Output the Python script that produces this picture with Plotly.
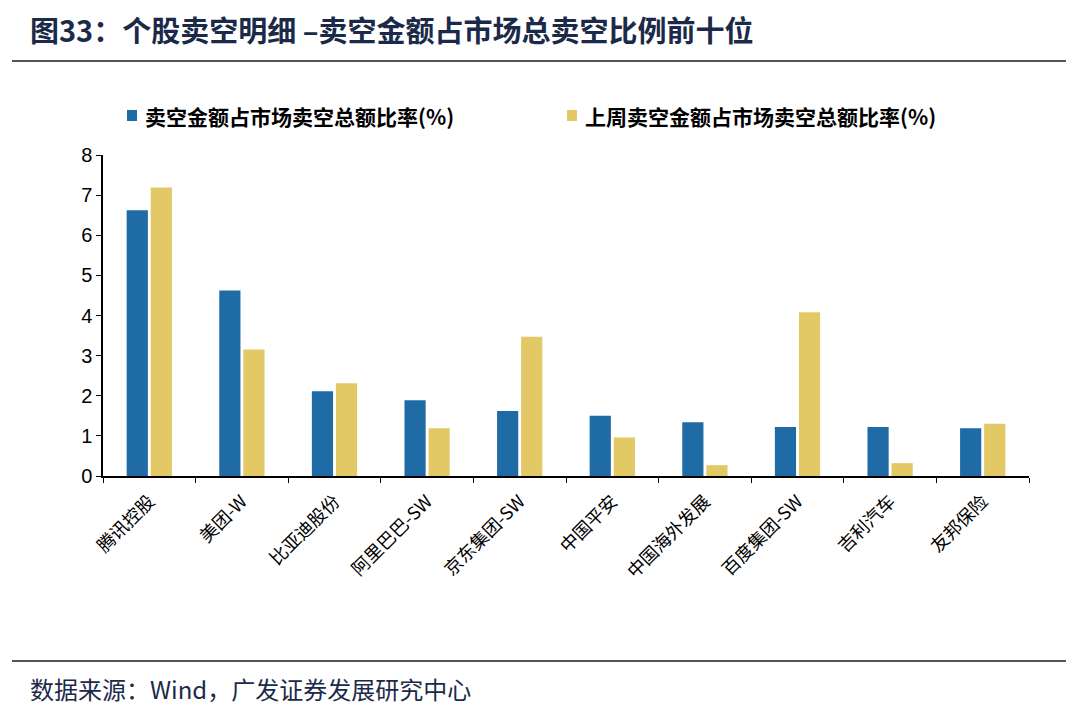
import plotly.graph_objects as go

categories = ["腾讯控股", "美团-W", "比亚迪股份", "阿里巴巴-SW", "京东集团-SW",
              "中国平安", "中国海外发展", "百度集团-SW", "吉利汽车", "友邦保险"]
this_week = [6.62, 4.62, 2.11, 1.89, 1.62, 1.50, 1.34, 1.22, 1.22, 1.19]
last_week = [7.19, 3.15, 2.31, 1.19, 3.47, 0.96, 0.27, 4.08, 0.32, 1.30]
series_names = ["卖空金额占市场卖空总额比率(%)", "上周卖空金额占市场卖空总额比率(%)"]
y_ticks = [0, 1, 2, 3, 4, 5, 6, 7, 8]

# The page body has an 8px default margin; the figure is sized/placed to compensate.
OFF = 8
W, H = 1080 - OFF, 705 - OFF
L, R, T, B = 103 - OFF, 51, 155 - OFF, 229
pw, ph = W - L - R, H - T - B

def px(x):
    return (x - OFF - L) / pw

def py(y):
    return (H - B - (y - OFF)) / ph

BLUE = "#1F6BA6"
YELLOW = "#E3C866"
CJK = "Noto Sans CJK SC"

fig = go.Figure()
fig.add_trace(go.Bar(x=categories, y=this_week, name=series_names[0],
                     marker=dict(color=BLUE, line=dict(width=0))))
fig.add_trace(go.Bar(x=categories, y=last_week, name=series_names[1],
                     marker=dict(color=YELLOW, line=dict(width=0))))

fig.update_layout(
    width=W, height=H,
    margin=dict(l=L, r=R, t=T, b=B, autoexpand=False),
    paper_bgcolor="white", plot_bgcolor="white",
    barmode="group", bargap=0.48, bargroupgap=0.12,
    showlegend=False,
    font=dict(family="Liberation Sans, Arial", color="#000000"),
)

fig.update_yaxes(range=[0, 8], tickvals=y_ticks, showgrid=False, zeroline=False,
                 showline=True, linecolor="#000000", linewidth=1.5,
                 ticks="outside", ticklen=5, tickcolor="#000000",
                 tickfont=dict(size=20, family="Liberation Sans, Arial", color="#000000"))
fig.update_xaxes(showgrid=False, showline=True, linecolor="#000000", linewidth=1.5,
                 ticks="outside", ticklen=5, tickcolor="#000000", tickson="boundaries",
                 tickangle=-45, ticklabelstandoff=6,
                 tickfont=dict(size=18, family=CJK, color="#000000"))

# Title
fig.add_annotation(x=px(28), y=py(29), xref="paper", yref="paper",
                   xanchor="left", yanchor="middle", showarrow=False,
                   text="<b>图33：个股卖空明细 –卖空金额占市场总卖空比例前十位</b>",
                   font=dict(size=29, family=CJK, color="#1B2A48"))
# Title rule and footer rule
fig.add_shape(type="line", xref="paper", yref="paper",
              x0=px(12), x1=px(1066), y0=py(61), y1=py(61),
              line=dict(color="#555555", width=2))
fig.add_shape(type="line", xref="paper", yref="paper",
              x0=px(12), x1=px(1066), y0=py(661), y1=py(661),
              line=dict(color="#555555", width=2))

# Legend (manual)
for sx, name, col in [(133, series_names[0], BLUE), (573, series_names[1], YELLOW)]:
    fig.add_shape(type="rect", xref="paper", yref="paper",
                  x0=px(sx - 6), x1=px(sx + 4), y0=py(110), y1=py(121),
                  fillcolor=col, line=dict(width=0))
    fig.add_annotation(x=px(sx + 10), y=py(116), xref="paper", yref="paper",
                       xanchor="left", yanchor="middle", showarrow=False,
                       text="<b>" + name + "</b>",
                       font=dict(size=21, family=CJK, color="#000000"))

# Source
fig.add_annotation(x=px(28), y=py(688), xref="paper", yref="paper",
                   xanchor="left", yanchor="middle", showarrow=False,
                   text="数据来源：Wind，广发证券发展研究中心",
                   font=dict(size=24, family=CJK, color="#1B2A48"))

fig.write_html("out.html")
